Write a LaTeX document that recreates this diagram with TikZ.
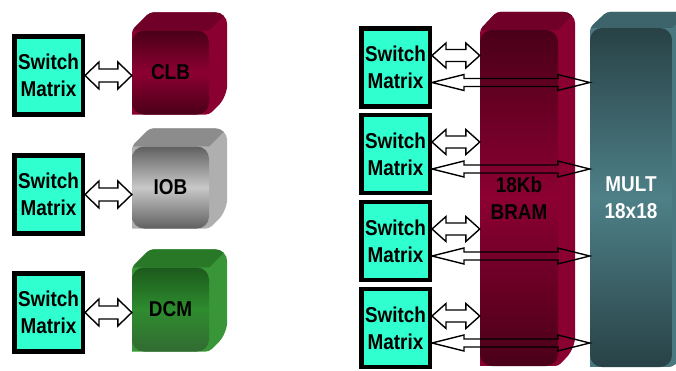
\documentclass[tikz,border=0pt]{standalone}
\usepackage{fontspec}
\setmainfont{Liberation Sans}[FakeStretch=0.88]
\usetikzlibrary{positioning,calc,backgrounds}

\definecolor{swcyan}{RGB}{48,255,208}
\definecolor{reddark}{RGB}{74,0,24}
\definecolor{redmid}{RGB}{140,0,50}
\definecolor{redtop}{RGB}{112,0,40}
\definecolor{redside}{RGB}{138,0,48}
\definecolor{greydark}{RGB}{96,96,96}
\definecolor{greymid}{RGB}{200,200,200}
\definecolor{greytop}{RGB}{140,140,140}
\definecolor{greyside}{RGB}{175,175,175}
\definecolor{greendark}{RGB}{28,90,28}
\definecolor{greenmid}{RGB}{46,140,46}
\definecolor{greentop}{RGB}{40,120,40}
\definecolor{greenside}{RGB}{56,150,56}
\definecolor{tealdark}{RGB}{40,66,70}
\definecolor{tealmid}{RGB}{78,128,136}
\definecolor{tealtop}{RGB}{60,100,106}
\definecolor{tealside}{RGB}{74,120,128}

% top and side faces behind a front node: node, offset, top colour, side colour
\newcommand{\cubeback}[4]{%
  \begin{scope}[on background layer]
    \begin{scope}
      \clip (#1.south west) [rounded corners=4pt] -- (#1.north west) -- ($(#1.north west)+(#2)$)
        [rounded corners=12pt] -- ($(#1.north east)+(#2)$) -- ($(#1.south east)+(#2)$)
        [rounded corners=4pt] -- (#1.south east) [sharp corners] -- cycle;
      \fill[#4] ($(#1.north west)+(0,-30)$) rectangle ($(#1.south east)+(30,0)$);
      \fill[#3] (#1.north west) -- ($(#1.north west)+(#2)$) -- ($(#1.north east)+(#2)$) -- (#1.north east) -- cycle;
    \end{scope}
  \end{scope}}

% hollow double arrow: from, to, shaft half width, head half width, head length
\newcommand{\busarrow}[5]{%
  \draw[bus] let \p1=(#1), \p2=(#2) in
    (\x1,\y1) -- (\x1+#5,\y1+#4) -- (\x1+#5,\y1+#3) -- (\x2-#5,\y1+#3) -- (\x2-#5,\y1+#4)
    -- (\x2,\y1) -- (\x2-#5,\y1-#4) -- (\x2-#5,\y1-#3) -- (\x1+#5,\y1-#3) -- (\x1+#5,\y1-#4) -- cycle;}

\begin{document}
\begin{tikzpicture}[
    x=1pt, y=-1pt,
    switchbox/.style={rectangle, draw, line width=4.5pt, fill=swcyan, font=\fontsize{21.5}{27}\selectfont\bfseries,
      align=center, minimum width=68.5pt, minimum height=78pt, inner sep=0pt},
    face/.style={rectangle, rounded corners=12pt, font=\fontsize{21.5}{27}\selectfont\bfseries, align=center, inner sep=0pt},
    bus/.style={draw, line width=1.4pt, line join=miter}
]
    \useasboundingbox (0,0) rectangle (676,370);

    % left column
    \foreach \i/\y in {1/75.5, 2/194.5, 3/312.5}
        \node[switchbox] (lsw\i) at (48.5,\y) {Switch\\Matrix};

    \node[face, minimum width=77pt, minimum height=84pt, top color=reddark, bottom color=reddark, middle color=redmid] (clb) at (170.5,72.5) {CLB};
    \node[face, minimum width=77pt, minimum height=82pt, top color=greydark, bottom color=greydark, middle color=greymid] (iob) at (170.5,187.5) {IOB};
    \node[face, minimum width=77pt, minimum height=84pt, top color=greendark, bottom color=greendark!90!white, middle color=greenmid] (dcm) at (170.5,309.5) {DCM};
    \cubeback{clb}{18,-18}{redtop}{redside}
    \cubeback{iob}{18,-18}{greytop}{greyside}
    \cubeback{dcm}{18,-18}{greentop}{greenside}

    % right column
    \node[face, minimum width=78pt, minimum height=336pt, top color=reddark, bottom color=reddark, middle color=redmid] (bram) at (519,198) {18Kb\\BRAM};
    \node[face, minimum width=82pt, minimum height=339pt, top color=tealdark, bottom color=tealdark, middle color=tealmid, text=white] (mult) at (631,197.5) {MULT\\18x18};
    \cubeback{bram}{17,-18}{redtop}{redside}
    \cubeback{mult}{17,-16}{tealtop}{tealside}

    \foreach \i/\y in {1/67.5, 2/154, 3/241, 4/328}
        \node[switchbox] (rsw\i) at (395.5,\y) {Switch\\Matrix};

    % connections
    \foreach \i/\b in {1/clb, 2/iob, 3/dcm}{
        \busarrow{lsw\i.east}{\b.west}{6.5pt}{13.5pt}{14pt}
    }
    \foreach \i in {1,...,4}{
        \busarrow{[yshift=12pt]rsw\i.east}{bram.west}{6pt}{12.5pt}{14pt}
        \busarrow{[yshift=-15pt]rsw\i.east}{mult.west}{4pt}{8pt}{32pt}
    }
\end{tikzpicture}
\end{document}
